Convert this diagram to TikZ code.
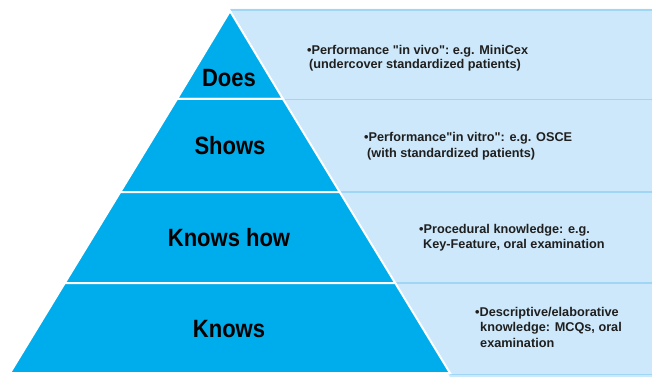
\documentclass[tikz,border=0pt]{standalone}
\usepackage{fontspec}
\setmainfont{Liberation Sans}
\newfontfamily\bigfont[FakeStretch=0.88]{Liberation Sans}
\newfontfamily\smallfont{Liberation Sans}
\definecolor{pyr}{HTML}{00ADEC}
\definecolor{lite}{HTML}{CDE8FA}
\definecolor{liteline}{HTML}{9FD5F5}
\newcommand{\dq}{\symbol{34}}
\tikzset{
  level/.style={fill=pyr, draw=white, line width=2pt, line join=miter},
  lbl/.style={font=\bigfont\bfseries\fontsize{25}{25}\selectfont, text=black, inner sep=0pt},
  desc/.style={font=\smallfont\bfseries\fontsize{12.7}{15.5}\selectfont, text=black!88, align=left, anchor=north west, inner sep=0pt},
  divline/.style={draw=liteline, line width=1.6pt}
}
\begin{document}
\begin{tikzpicture}[x=1pt,y=-1pt]
\useasboundingbox (0,0) rectangle (652,377);
% light blue band
\fill[lite] (230,9) -- (652,9) -- (652,377) -- (450,377) -- cycle;
\path[divline] (230,10) -- (652,10);
\path[divline] (283,99.5) -- (652,99.5);
\path[divline] (339.7,192) -- (652,192);
\path[divline] (395.2,283) -- (652,283);
\path[divline] (450,374.5) -- (652,374.5);
% pyramid
\path[level] (230,11) -- (283,99) -- (177,99) -- cycle;
\path[level] (177,99) -- (283,99) -- (339.7,192) -- (120.3,192) -- cycle;
\path[level] (120.3,192) -- (339.7,192) -- (395.2,283) -- (64.8,283) -- cycle;
\path[level] (64.8,283) -- (395.2,283) -- (450,373) -- (10,373) -- cycle;
% labels
\node[lbl] (does) at (229,78) {Does};
\node[lbl] (shows) at (230,146) {Shows};
\node[lbl] (knowshow) at (229,237.5) {Knows how};
\node[lbl] (knows) at (229,329) {Knows};
% descriptions
\node[desc] (d1) at (307,45.5) {\textbullet Performance \dq in vivo\dq:\ e.g. MiniCex\\[-1.5pt]\hspace*{2pt}(undercover standardized patients)};
\node[desc] (d2) at (364,132) {\textbullet Performance\dq in vitro\dq: e.g. OSCE\\[1pt]\hspace*{3pt}(with standardized patients)};
\node[desc] (d3) at (419,224) {\textbullet Procedural knowledge: e.g.\\\hspace*{4pt}Key-Feature, oral examination};
\node[desc] (d4) at (475,307) {\textbullet Descriptive/elaborative\\\hspace*{5pt}knowledge: MCQs, oral\\\hspace*{5pt}examination};
\end{tikzpicture}
\end{document}
